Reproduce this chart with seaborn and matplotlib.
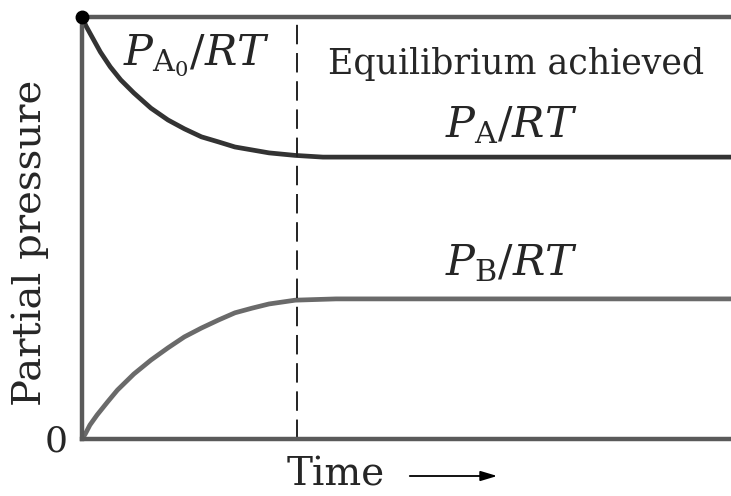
import matplotlib
matplotlib.use("Agg")
import matplotlib.pyplot as plt
import seaborn as sns
import pandas as pd

sns.set_style("white")
plt.rcParams['font.family'] = ['DejaVu Serif']
plt.rcParams['mathtext.fontset'] = 'dejavuserif'

# Data (time in arbitrary units, pressure normalised)
time_a = [0.0, 0.06, 0.12, 0.28, 0.43, 0.59, 0.79, 1.05, 1.31, 1.56, 1.82, 2.08, 2.33, 2.59, 2.85, 3.25, 3.67, 10.0]
pres_a = [1.0, 0.979, 0.962, 0.917, 0.882, 0.851, 0.820, 0.784, 0.756, 0.735, 0.716, 0.704, 0.692, 0.685, 0.678, 0.672, 0.668, 0.668]
time_b = [0.0, 0.05, 0.12, 0.23, 0.39, 0.54, 0.79, 1.05, 1.31, 1.56, 1.82, 2.08, 2.33, 2.59, 2.85, 3.25, 3.87, 10.0]
pres_b = [0.0, 0.012, 0.033, 0.057, 0.088, 0.116, 0.154, 0.187, 0.216, 0.242, 0.263, 0.282, 0.299, 0.310, 0.320, 0.329, 0.332, 0.332]
t_equilibrium = 3.27

df_a = pd.DataFrame({"time": time_a, "pressure": pres_a})
df_b = pd.DataFrame({"time": time_b, "pressure": pres_b})

fig = plt.figure(figsize=(7.31, 4.96), dpi=100)
ax = fig.add_axes([82/731, 57/496, 1 - 82/731 + 0.01, (439-17)/496])

sns.lineplot(data=df_a, x="time", y="pressure", ax=ax, color="#333333", lw=3.4,
             solid_capstyle="butt", solid_joinstyle="round", clip_on=False)
sns.lineplot(data=df_b, x="time", y="pressure", ax=ax, color="#6a6a6a", lw=3.4,
             solid_capstyle="butt", solid_joinstyle="round", clip_on=False)
ax.plot([time_a[0]], [pres_a[0]], "o", color="black", ms=9, clip_on=False, zorder=5)
ax.axvline(t_equilibrium, color="#222222", lw=1.4, dashes=(10, 4.5))

ax.set_xlim(0, 10.0)
ax.set_ylim(0, 1.0)
for s in ["left", "bottom", "top"]:
    ax.spines[s].set_color("#5a5a5a")
    ax.spines[s].set_linewidth(3.2)
ax.spines["right"].set_visible(False)
ax.set_xticks([])
ax.set_yticks([])
ax.set_xlabel("")
ax.set_ylabel("")

def fy(py):
    return 1 - py / 496

fig.text(30/731, fy(243), "Partial pressure", rotation=90, ha="center", va="center", fontsize=29)
fig.text(56/731, fy(452), "0", ha="center", va="baseline", fontsize=26)
fig.text(336/731, fy(486), "Time", ha="center", va="baseline", fontsize=28)
ax.annotate("", xy=(500/731, fy(476)), xytext=(407/731, fy(476)),
            xycoords="figure fraction", textcoords="figure fraction", annotation_clip=False,
            arrowprops=dict(arrowstyle="-|>,head_length=1.0,head_width=0.3", color="black", lw=1.3))

fig.text(197/731, fy(65), r"$P_{\mathrm{A}_0}/RT$", ha="center", va="baseline", fontsize=31)
fig.text(516/731, fy(74), "Equilibrium achieved", ha="center", va="baseline", fontsize=25)
fig.text(511/731, fy(137), r"$P_{\mathrm{A}}/RT$", ha="center", va="baseline", fontsize=31)
fig.text(511/731, fy(275), r"$P_{\mathrm{B}}/RT$", ha="center", va="baseline", fontsize=31)

fig.savefig("out.png", dpi=100)
